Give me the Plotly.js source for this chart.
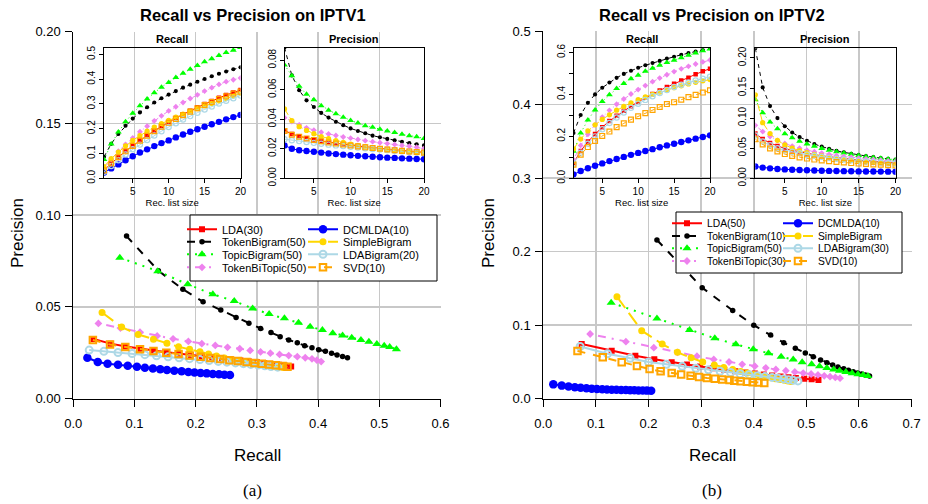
<!DOCTYPE html>
<html><head><meta charset="utf-8">
<script src="https://cdn.plot.ly/plotly-3.0.1.min.js"></script>
<style>html,body{margin:0;padding:0;background:#fff}#chart{width:928px;height:504px}</style>
</head><body><div id="chart"></div>
<script>
// ---------------- DATA ----------------
const recListSize = [1,2,3,4,5,6,7,8,9,10,11,12,13,14,15,16,17,18,19,20];

const methodsIPTV1 = ['LDA(30)','TokenBigram(50)','TopicBigram(50)','TokenBiTopic(50)','DCMLDA(10)','SimpleBigram','LDABigram(20)','SVD(10)'];
const methodsIPTV2 = ['LDA(50)','TokenBigram(10)','TopicBigram(50)','TokenBiTopic(30)','DCMLDA(10)','SimpleBigram','LDABigram(30)','SVD(10)'];

// IPTV1 recall@k
const r1_LDA          = [0.033,0.061,0.086,0.110,0.132,0.153,0.173,0.192,0.210,0.227,0.243,0.258,0.273,0.287,0.300,0.312,0.325,0.336,0.346,0.356];
const r1_TokenBigram  = [0.087,0.139,0.179,0.212,0.241,0.266,0.287,0.306,0.323,0.338,0.352,0.366,0.378,0.390,0.401,0.412,0.422,0.431,0.440,0.448];
const r1_TopicBigram  = [0.076,0.138,0.187,0.228,0.263,0.293,0.320,0.345,0.368,0.387,0.407,0.424,0.440,0.455,0.470,0.483,0.496,0.508,0.517,0.528];
const r1_TokenBiTopic = [0.041,0.077,0.109,0.137,0.163,0.188,0.210,0.232,0.252,0.272,0.289,0.306,0.322,0.337,0.352,0.366,0.379,0.390,0.398,0.405];
const r1_DCMLDA       = [0.023,0.040,0.056,0.073,0.089,0.104,0.117,0.130,0.142,0.153,0.165,0.177,0.188,0.198,0.208,0.218,0.228,0.238,0.247,0.256];
const r1_SimpleBigram = [0.047,0.079,0.106,0.131,0.153,0.172,0.190,0.207,0.221,0.234,0.247,0.259,0.270,0.281,0.292,0.302,0.312,0.322,0.332,0.343];
const r1_LDABigram    = [0.026,0.050,0.073,0.096,0.117,0.136,0.155,0.173,0.190,0.207,0.222,0.237,0.251,0.265,0.278,0.290,0.302,0.313,0.323,0.334];
const r1_SVD          = [0.032,0.060,0.085,0.109,0.131,0.152,0.172,0.190,0.208,0.224,0.240,0.255,0.269,0.283,0.296,0.308,0.320,0.331,0.342,0.350];

// IPTV1 precision@k
const p1_LDA          = [0.0325,0.0300,0.0285,0.0272,0.0262,0.0253,0.0245,0.0238,0.0231,0.0225,0.0219,0.0213,0.0208,0.0203,0.0198,0.0193,0.0189,0.0185,0.0180,0.0176];
const p1_TokenBigram  = [0.0886,0.0697,0.0596,0.0528,0.0483,0.0443,0.0411,0.0383,0.0360,0.0338,0.0320,0.0305,0.0289,0.0278,0.0267,0.0258,0.0247,0.0238,0.0230,0.0223];
const p1_TopicBigram  = [0.0768,0.0695,0.0623,0.0569,0.0532,0.0492,0.0461,0.0438,0.0414,0.0392,0.0374,0.0356,0.0345,0.0332,0.0320,0.0310,0.0298,0.0289,0.0282,0.0269];
const p1_TokenBiTopic = [0.0410,0.0385,0.0362,0.0342,0.0326,0.0312,0.0300,0.0290,0.0280,0.0272,0.0263,0.0255,0.0248,0.0241,0.0235,0.0229,0.0223,0.0217,0.0210,0.0202];
const p1_DCMLDA       = [0.0223,0.0200,0.0190,0.0185,0.0180,0.0174,0.0168,0.0164,0.0160,0.0156,0.0152,0.0149,0.0146,0.0143,0.0140,0.0138,0.0135,0.0133,0.0131,0.0129];
const p1_SimpleBigram = [0.0470,0.0390,0.0350,0.0324,0.0302,0.0283,0.0269,0.0256,0.0243,0.0232,0.0222,0.0214,0.0206,0.0199,0.0193,0.0187,0.0182,0.0177,0.0173,0.0170];
const p1_LDABigram    = [0.0265,0.0258,0.0252,0.0246,0.0240,0.0234,0.0228,0.0223,0.0218,0.0213,0.0208,0.0203,0.0199,0.0195,0.0191,0.0187,0.0183,0.0179,0.0175,0.0172];
const p1_SVD          = [0.0320,0.0295,0.0282,0.0270,0.0260,0.0251,0.0243,0.0236,0.0229,0.0222,0.0216,0.0210,0.0205,0.0200,0.0195,0.0190,0.0186,0.0182,0.0178,0.0174];

// IPTV2 recall@k
const r2_LDA          = [0.073,0.130,0.175,0.211,0.244,0.273,0.298,0.322,0.344,0.365,0.384,0.402,0.419,0.435,0.451,0.466,0.480,0.496,0.510,0.523];
const r2_TokenBigram  = [0.216,0.302,0.360,0.400,0.432,0.457,0.479,0.498,0.513,0.527,0.539,0.550,0.560,0.571,0.580,0.589,0.597,0.605,0.612,0.620];
const r2_TopicBigram  = [0.129,0.216,0.278,0.326,0.366,0.399,0.428,0.452,0.475,0.492,0.510,0.525,0.539,0.552,0.563,0.575,0.587,0.598,0.608,0.617];
const r2_TokenBiTopic = [0.089,0.157,0.210,0.255,0.292,0.324,0.353,0.378,0.402,0.423,0.442,0.461,0.478,0.494,0.509,0.522,0.534,0.545,0.555,0.564];
const r2_DCMLDA       = [0.019,0.035,0.048,0.060,0.071,0.082,0.092,0.102,0.112,0.121,0.130,0.139,0.148,0.157,0.165,0.173,0.181,0.189,0.197,0.205];
const r2_SimpleBigram = [0.140,0.187,0.226,0.255,0.281,0.303,0.325,0.343,0.360,0.375,0.388,0.400,0.411,0.421,0.432,0.441,0.450,0.458,0.465,0.471];
const r2_LDABigram    = [0.070,0.122,0.165,0.200,0.234,0.264,0.290,0.314,0.336,0.356,0.374,0.391,0.407,0.421,0.435,0.446,0.457,0.466,0.475,0.484];
const r2_SVD          = [0.065,0.113,0.149,0.178,0.202,0.223,0.244,0.262,0.280,0.296,0.311,0.326,0.340,0.354,0.363,0.375,0.387,0.398,0.409,0.420];

// IPTV2 precision@k
const p2_LDA          = [0.0744,0.0653,0.0585,0.0536,0.0495,0.0466,0.0438,0.0414,0.0393,0.0374,0.0357,0.0342,0.0328,0.0315,0.0303,0.0292,0.0282,0.0272,0.0263,0.0255];
const p2_TokenBigram  = [0.216,0.151,0.120,0.100,0.0865,0.0762,0.0685,0.0622,0.0570,0.0527,0.0490,0.0458,0.0431,0.0408,0.0387,0.0368,0.0351,0.0336,0.0322,0.0310];
const p2_TopicBigram  = [0.1306,0.109,0.0935,0.0822,0.0740,0.0672,0.0617,0.0571,0.0533,0.0497,0.0468,0.0442,0.0419,0.0398,0.0379,0.0362,0.0347,0.0333,0.0321,0.0310];
const p2_TokenBiTopic = [0.0880,0.0776,0.0694,0.0630,0.0578,0.0535,0.0499,0.0468,0.0442,0.0419,0.0398,0.0380,0.0364,0.0349,0.0336,0.0323,0.0311,0.0300,0.0289,0.0279];
const p2_DCMLDA       = [0.0195,0.0178,0.0165,0.0155,0.0148,0.0142,0.0137,0.0133,0.0129,0.0126,0.0123,0.0121,0.0119,0.0117,0.0115,0.0114,0.0112,0.0111,0.0110,0.0109];
const p2_SimpleBigram = [0.1388,0.0925,0.0744,0.0631,0.0556,0.0500,0.0460,0.0425,0.0396,0.0371,0.0349,0.0330,0.0313,0.0298,0.0285,0.0273,0.0262,0.0252,0.0242,0.0233];
const p2_LDABigram    = [0.0710,0.0612,0.0550,0.0500,0.0468,0.0440,0.0415,0.0393,0.0373,0.0356,0.0340,0.0326,0.0313,0.0301,0.0290,0.0279,0.0269,0.0259,0.0250,0.0242];
const p2_SVD          = [0.0650,0.0563,0.0495,0.0445,0.0403,0.0372,0.0348,0.0328,0.0311,0.0296,0.0283,0.0272,0.0262,0.0253,0.0245,0.0238,0.0231,0.0225,0.0219,0.0213];

// tick labels
const mainX1Ticks = [0,0.1,0.2,0.3,0.4,0.5,0.6];
const mainX1Text  = ['0.0','0.1','0.2','0.3','0.4','0.5','0.6'];
const mainY1Ticks = [0,0.05,0.1,0.15,0.2];
const mainY1Text  = ['0.00','0.05','0.10','0.15','0.20'];
const mainX2Ticks = [0,0.1,0.2,0.3,0.4,0.5,0.6,0.7];
const mainX2Text  = ['0.0','0.1','0.2','0.3','0.4','0.5','0.6','0.7'];
const mainY2Ticks = [0,0.1,0.2,0.3,0.4,0.5];
const mainY2Text  = ['0.0','0.1','0.2','0.3','0.4','0.5'];
const insetXTicks = [5,10,15,20];
const insetXText  = ['5','10','15','20'];
const inR1Ticks = [0,0.1,0.2,0.3,0.4,0.5];
const inR1Text  = ['0.0','0.1','0.2','0.3','0.4','0.5'];
const inP1Ticks = [0,0.02,0.04,0.06,0.08];
const inP1Text  = ['0.00','0.02','0.04','0.06','0.08'];
const inR2Ticks = [0,0.1,0.2,0.3,0.4,0.5,0.6];
const inR2Text  = ['0.0','','0.2','','0.4','','0.6'];
const inP2Ticks = [0,0.05,0.1,0.15,0.2];
const inP2Text  = ['0.00','0.05','0.10','0.15','0.20'];

const recall1 = [r1_LDA,r1_TokenBigram,r1_TopicBigram,r1_TokenBiTopic,r1_DCMLDA,r1_SimpleBigram,r1_LDABigram,r1_SVD];
const prec1   = [p1_LDA,p1_TokenBigram,p1_TopicBigram,p1_TokenBiTopic,p1_DCMLDA,p1_SimpleBigram,p1_LDABigram,p1_SVD];
const recall2 = [r2_LDA,r2_TokenBigram,r2_TopicBigram,r2_TokenBiTopic,r2_DCMLDA,r2_SimpleBigram,r2_LDABigram,r2_SVD];
const prec2   = [p2_LDA,p2_TokenBigram,p2_TopicBigram,p2_TokenBiTopic,p2_DCMLDA,p2_SimpleBigram,p2_LDABigram,p2_SVD];

// ---------------- STYLE ----------------
const FONT = 'Liberation Sans, Arial, Helvetica, sans-serif';
const W = 928, H = 504;
const fx = px => px / W, fy = py => 1 - py / H;

const styles = [
  {color:'#FF0000', dashMain:'solid',            dashIn:'solid',          symbol:'square',      size:6,   lw:0},
  {color:'#000000', dashMain:'8px,8px',          dashIn:'4px,4px',        symbol:'circle',      size:5.5, lw:0},
  {color:'#00FF00', dashMain:'2px,6px',          dashIn:'1px,3px',        symbol:'triangle-up', size:8,   lw:0},
  {color:'#EE82EE', dashMain:'2px,6px,8px,6px',  dashIn:'1px,3px,4px,3px',symbol:'diamond',     size:6,   lw:0},
  {color:'#0000FF', dashMain:'solid',            dashIn:'solid',          symbol:'circle',      size:8.5, lw:0},
  {color:'#FFD700', dashMain:'14px,6px',         dashIn:'7px,3px',        symbol:'circle',      size:7,   lw:0},
  {color:'#ADD8E6', dashMain:'solid',            dashIn:'solid',          symbol:'circle-open', size:7,   lw:2},
  {color:'#FFA500', dashMain:'8px,8px',          dashIn:'4px,4px',        symbol:'square-open', size:6.5, lw:2}
];

// legend slots: [col, row] in R's column-major order
const legSlots1 = {cols:[182, 303], rows:[229.3, 241.7, 254.3, 267.3], size:11};
const legSlots2 = {cols:[667, 778], rows:[223.3, 236, 248.3, 261], size:10.3};

const traces = [];
const legends = {};
let legIdx = 0;

function addPanel(names, rec, prec, xm, ym, xr, yr, xp, yp, slots) {
  for (let s = 0; s < names.length; s++) {
    const st = styles[s];
    legIdx++;
    const legKey = legIdx === 1 ? 'legend' : 'legend' + legIdx;
    const col = Math.floor(s / 4), row = s % 4;
    legends[legKey] = {
      x: fx(slots.cols[col]), y: fy(slots.rows[row]), xanchor:'left', yanchor:'middle',
      bgcolor:'rgba(0,0,0,0)', borderwidth:0, font:{family:FONT, size:slots.size, color:'#000'},
      itemclick:false, itemdoubleclick:false
    };
    traces.push({
      type:'scatter', mode:'lines+markers', name:names[s], x:rec[s], y:prec[s], xaxis:xm, yaxis:ym,
      legend: legKey, showlegend:true,
      line:{color:st.color, width:2, dash:st.dashMain},
      marker:{color:st.color, symbol:st.symbol, size:st.size, line:{color:st.color, width:st.lw}}
    });
    traces.push({
      type:'scatter', mode:'lines+markers', name:names[s], x:recListSize, y:rec[s], xaxis:xr, yaxis:yr,
      showlegend:false,
      line:{color:st.color, width:1, dash:st.dashIn},
      marker:{color:st.color, symbol:st.symbol, size:st.size*0.75, line:{color:st.color, width:st.lw ? 1.2 : 0}}
    });
    traces.push({
      type:'scatter', mode:'lines+markers', name:names[s], x:recListSize, y:prec[s], xaxis:xp, yaxis:yp,
      showlegend:false,
      line:{color:st.color, width:1, dash:st.dashIn},
      marker:{color:st.color, symbol:st.symbol, size:st.size*0.75, line:{color:st.color, width:st.lw ? 1.2 : 0}}
    });
  }
}

addPanel(methodsIPTV1, recall1, prec1, 'x', 'y', 'x3', 'y3', 'x4', 'y4', legSlots1);
addPanel(methodsIPTV2, recall2, prec2, 'x2', 'y2', 'x5', 'y5', 'x6', 'y6', legSlots2);

const maxOf = arrs => Math.max(...arrs.map(a => Math.max(...a)));

function mainX(px0, px1, range, tv, tt, anchor) {
  return {domain:[fx(px0), fx(px1)], range, anchor, tickmode:'array', tickvals:tv, ticktext:tt,
    showline:true, linecolor:'#000', linewidth:1, ticks:'outside', ticklen:7, tickcolor:'#000', tickwidth:1,
    showgrid:true, gridcolor:'#c8c8c8', gridwidth:1.5, zeroline:false,
    tickfont:{family:FONT, size:13, color:'#000'}, ticklabelstandoff:6, fixedrange:true};
}
function mainY(py0, py1, range, tv, tt, anchor) {
  return {domain:[fy(py0), fy(py1)], range, anchor, tickmode:'array', tickvals:tv, ticktext:tt,
    showline:true, linecolor:'#000', linewidth:1, ticks:'outside', ticklen:7, tickcolor:'#000', tickwidth:1,
    showgrid:true, gridcolor:'#c8c8c8', gridwidth:1.5, zeroline:false,
    tickfont:{family:FONT, size:13, color:'#000'}, ticklabelstandoff:2, fixedrange:true};
}
function inX(px0, px1, anchor) {
  return {domain:[fx(px0), fx(px1)], range:[1, 20], anchor, tickmode:'array', tickvals:insetXTicks, ticktext:insetXText,
    showline:true, mirror:true, linecolor:'#000', linewidth:1, ticks:'outside', ticklen:4, tickcolor:'#000',
    showgrid:false, zeroline:false, tickfont:{family:FONT, size:10, color:'#000'}, ticklabelstandoff:0,
    title:{text:'Rec. list size', font:{family:FONT, size:9.5, color:'#000'}, standoff:1}, fixedrange:true};
}
function inY(py0, py1, maxv, tv, tt, anchor) {
  return {domain:[fy(py0), fy(py1)], range:[0, maxv], anchor, tickmode:'array', tickvals:tv, ticktext:tt,
    showline:true, mirror:true, linecolor:'#000', linewidth:1, ticks:'outside', ticklen:4, tickcolor:'#000',
    showgrid:false, zeroline:false, tickangle:-90, tickfont:{family:FONT, size:10, color:'#000'}, fixedrange:true};
}

function ann(text, px, py, size, extra) {
  return Object.assign({text, x:fx(px), y:fy(py), xref:'paper', yref:'paper', xanchor:'center', yanchor:'middle',
    showarrow:false, font:{family:FONT, size, color:'#000'}}, extra || {});
}

const layout = Object.assign({
  width:W, height:H, margin:{l:0, r:0, t:0, b:0},
  paper_bgcolor:'#fff', plot_bgcolor:'rgba(0,0,0,0)', showlegend:true,
  xaxis:  mainX(73.3, 440.5, [0, 0.6], mainX1Ticks, mainX1Text, 'y'),
  yaxis:  mainY(398.7, 31.6, [0, 0.2], mainY1Ticks, mainY1Text, 'x'),
  xaxis2: mainX(543.3, 911.6, [0, 0.7], mainX2Ticks, mainX2Text, 'y2'),
  yaxis2: mainY(398.7, 31.2, [0, 0.5], mainY2Ticks, mainY2Text, 'x2'),
  xaxis3: inX(104, 240.5, 'y3'),
  yaxis3: inY(178.3, 47.5, maxOf(recall1), inR1Ticks, inR1Text, 'x3'),
  xaxis4: inX(284.5, 424, 'y4'),
  yaxis4: inY(178.3, 47.5, maxOf(prec1), inP1Ticks, inP1Text, 'x4'),
  xaxis5: inX(573.5, 710, 'y5'),
  yaxis5: inY(178.3, 48.3, maxOf(recall2), inR2Ticks, inR2Text, 'x5'),
  xaxis6: inX(755.3, 895.5, 'y6'),
  yaxis6: inY(178.3, 48.3, maxOf(prec2), inP2Ticks, inP2Text, 'x6'),
  shapes: [
    {type:'rect', xref:'paper', yref:'paper', x0:fx(190), x1:fx(437), y0:fy(281), y1:fy(215),
     fillcolor:'#fff', line:{color:'#000', width:1}, layer:'above'},
    {type:'rect', xref:'paper', yref:'paper', x0:fx(676), x1:fx(902), y0:fy(273), y1:fy(212),
     fillcolor:'#fff', line:{color:'#000', width:1}, layer:'above'}
  ],
  annotations: [
    ann('<b>Recall vs Precision on IPTV1</b>', 253, 15, 16.5),
    ann('<b>Recall vs Precision on IPTV2</b>', 712, 15, 16.5),
    ann('Precision', 17, 233, 17, {textangle:-90}),
    ann('Precision', 488, 233, 17, {textangle:-90}),
    ann('Recall', 257, 455, 17),
    ann('Recall', 712, 455, 17),
    ann('<b>Recall</b>', 172, 39, 11),
    ann('<b>Precision</b>', 354, 39, 11),
    ann('<b>Recall</b>', 642, 39, 11),
    ann('<b>Precision</b>', 825, 39, 11),
    ann('(a)', 253, 490, 17, {font:{family:'Liberation Serif, Times New Roman, serif', size:17, color:'#000'}}),
    ann('(b)', 712, 490, 17, {font:{family:'Liberation Serif, Times New Roman, serif', size:17, color:'#000'}})
  ]
}, legends);

Plotly.newPlot('chart', traces, layout, {displayModeBar:false, staticPlot:true});
</script>
</body></html>
